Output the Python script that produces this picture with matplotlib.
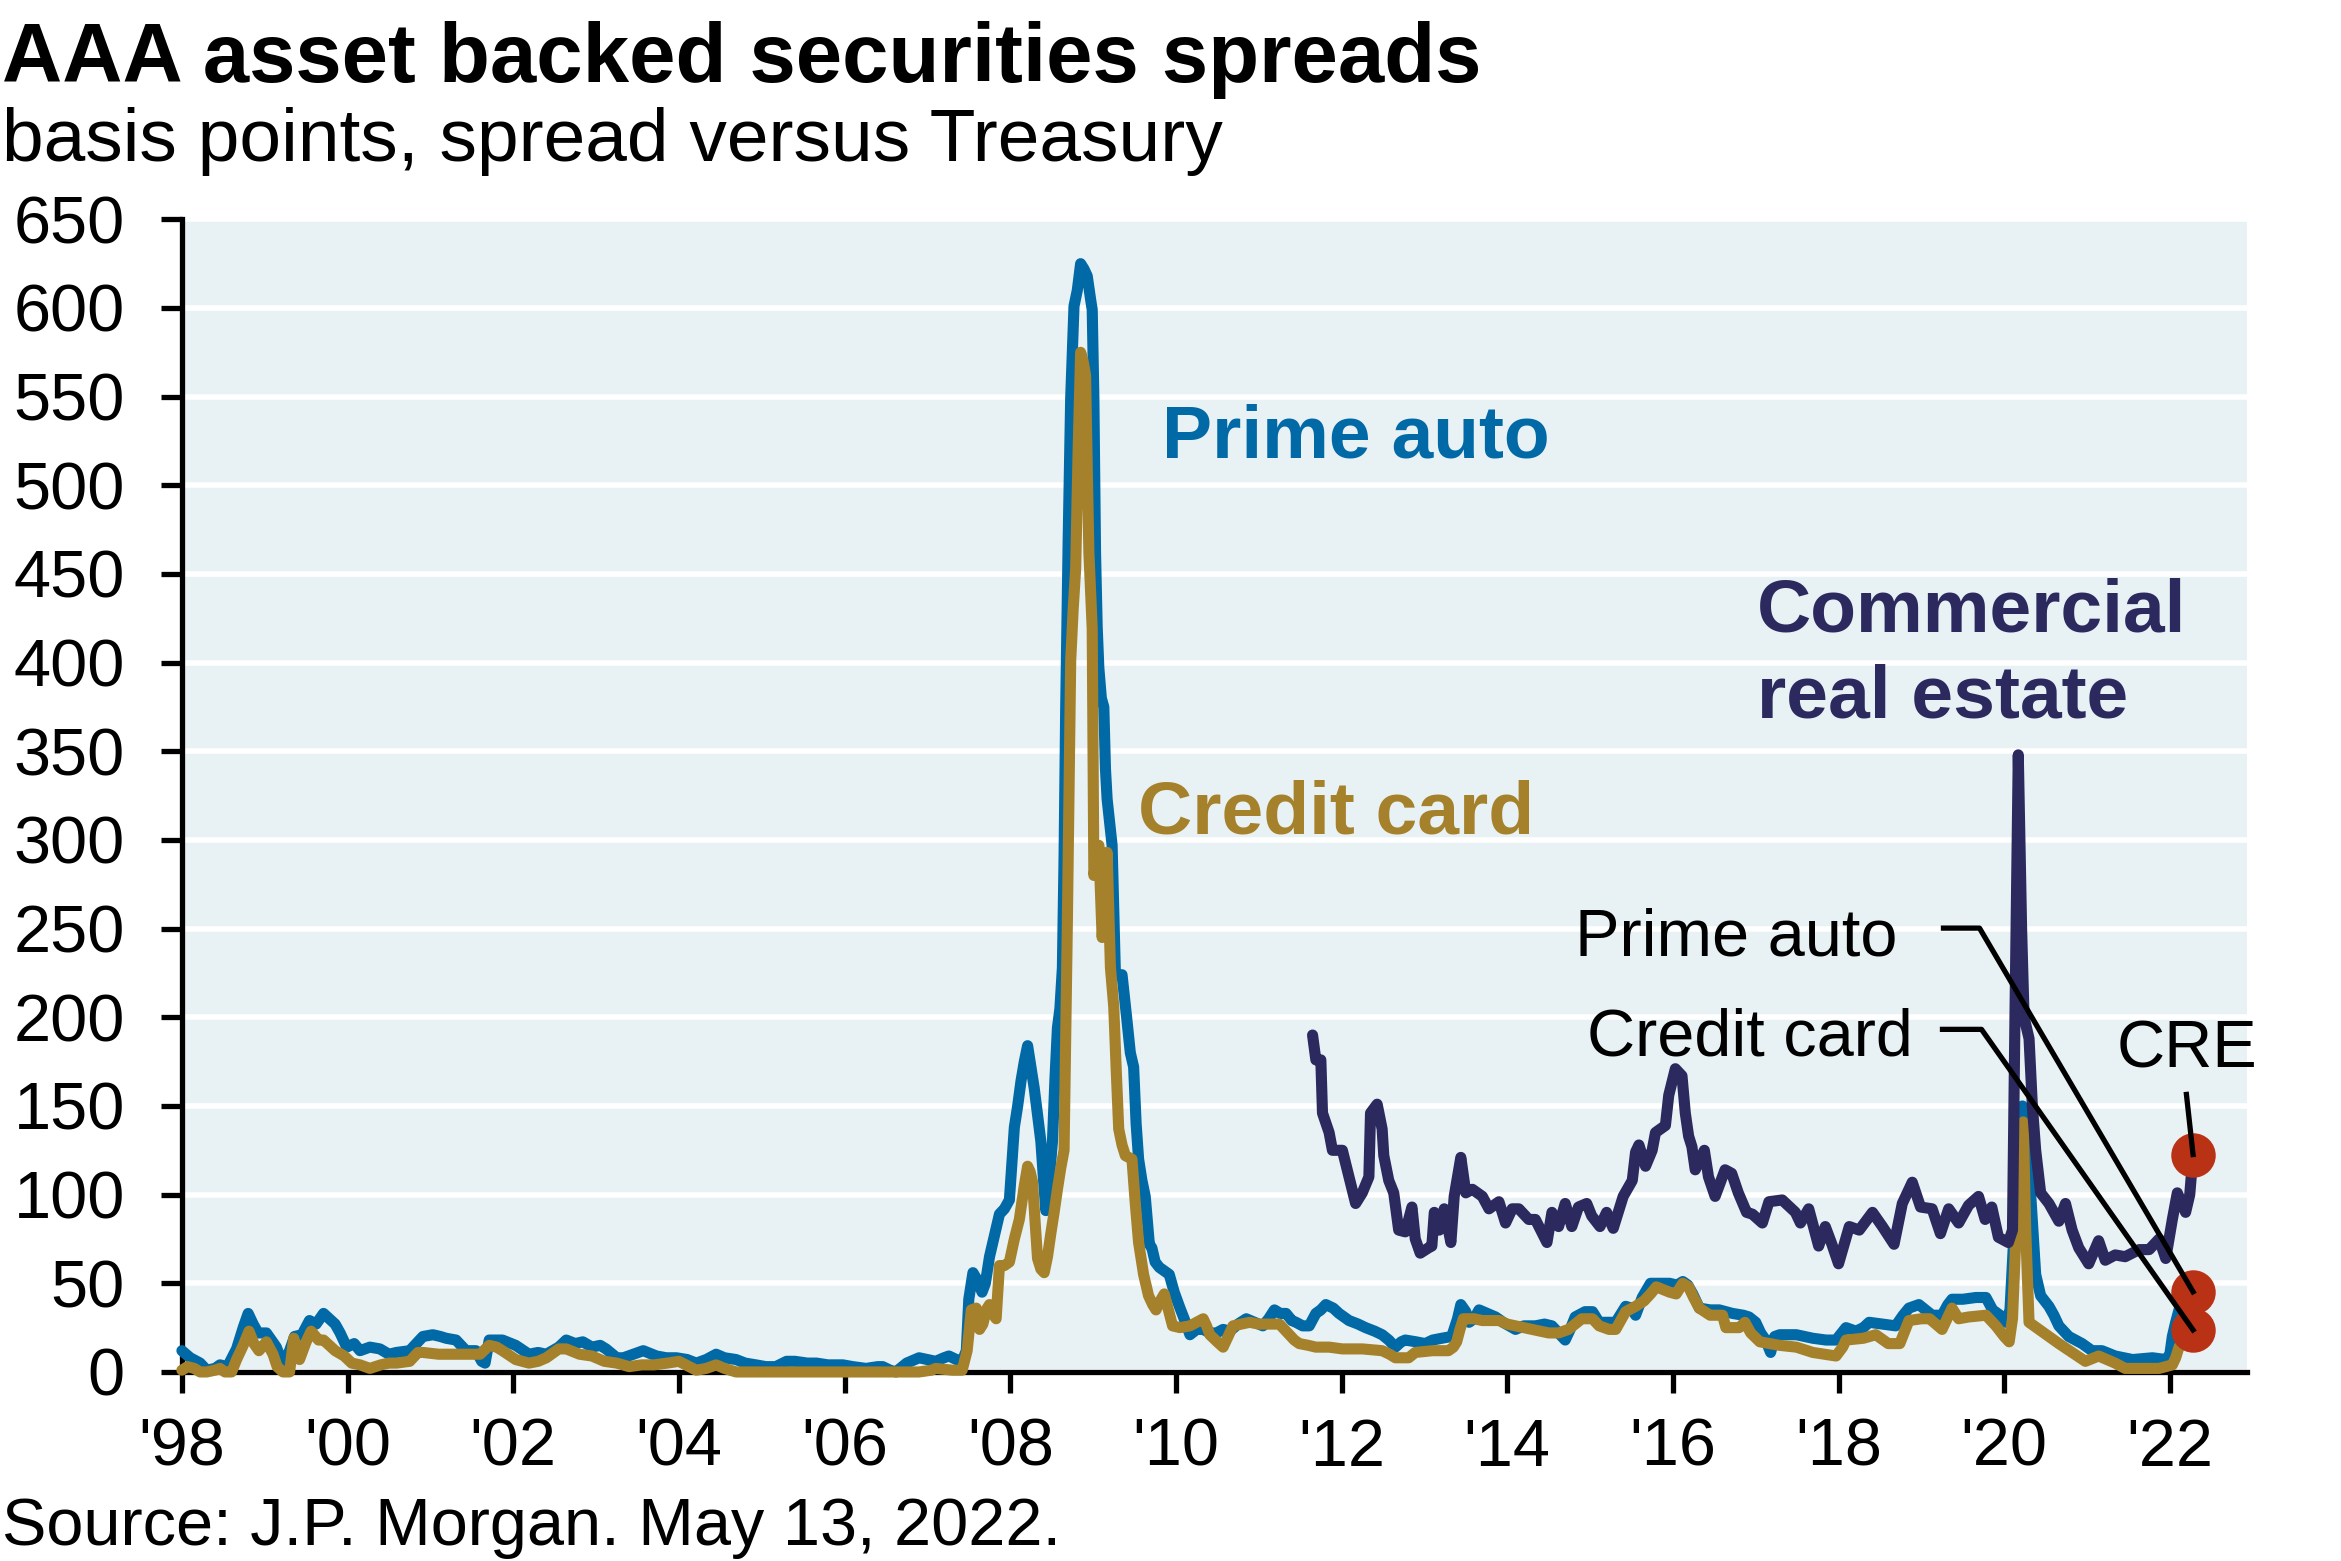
#!/usr/bin/env python3
#
# AAA asset backed securities spreads, basis points over Treasury
#
import matplotlib
matplotlib.use('Agg')
import matplotlib.pyplot as plt
import matplotlib.ticker

# Prime auto (decimal year, spread in bp)
auto_t = [
    1998.00, 1998.10, 1998.22, 1998.30, 1998.40, 1998.46, 1998.55, 1998.66,
    1998.74, 1998.80, 1998.86, 1998.92, 1999.02, 1999.14, 1999.22, 1999.30,
    1999.36, 1999.45, 1999.54, 1999.62, 1999.71, 1999.78, 1999.85, 1999.91,
    1999.99, 2000.08, 2000.15, 2000.27, 2000.39, 2000.50, 2000.59, 2000.75,
    2000.85, 2000.91, 2001.03, 2001.12, 2001.19, 2001.31, 2001.43, 2001.55,
    2001.62, 2001.66, 2001.71, 2001.87, 2002.03, 2002.19, 2002.30, 2002.40,
    2002.55, 2002.64, 2002.75, 2002.84, 2002.95, 2003.05, 2003.12, 2003.25,
    2003.33, 2003.45, 2003.57, 2003.73, 2003.85, 2003.97, 2004.10, 2004.21,
    2004.33, 2004.45, 2004.55, 2004.69, 2004.80, 2004.93, 2005.05, 2005.17,
    2005.30, 2005.40, 2005.55, 2005.66, 2005.80, 2005.98, 2006.10, 2006.26,
    2006.40, 2006.46, 2006.55, 2006.62, 2006.75, 2006.90, 2007.00, 2007.10,
    2007.20, 2007.26, 2007.35, 2007.42, 2007.47, 2007.50, 2007.55, 2007.60,
    2007.66, 2007.70, 2007.75, 2007.80, 2007.87, 2007.93, 2007.99, 2008.05,
    2008.09, 2008.13, 2008.17, 2008.21, 2008.25, 2008.29, 2008.33, 2008.37,
    2008.40, 2008.43, 2008.47, 2008.51, 2008.54, 2008.57, 2008.60, 2008.63,
    2008.65, 2008.67, 2008.70, 2008.73, 2008.77, 2008.81, 2008.85, 2008.89,
    2008.93, 2008.97, 2008.99, 2009.01, 2009.03, 2009.05, 2009.07, 2009.10,
    2009.13, 2009.15, 2009.17, 2009.20, 2009.23, 2009.25, 2009.27, 2009.31,
    2009.35, 2009.41, 2009.45, 2009.49, 2009.52, 2009.55, 2009.59, 2009.63,
    2009.68, 2009.71, 2009.75, 2009.80, 2009.86, 2009.92, 2009.98, 2010.05,
    2010.10, 2010.17, 2010.25, 2010.33, 2010.41, 2010.49, 2010.57, 2010.65,
    2010.75, 2010.85, 2010.95, 2011.05, 2011.12, 2011.19, 2011.26, 2011.33,
    2011.40, 2011.45, 2011.53, 2011.61, 2011.69, 2011.75, 2011.81, 2011.90,
    2011.97, 2012.09, 2012.20, 2012.29, 2012.40, 2012.49, 2012.57, 2012.65,
    2012.72, 2012.77, 2012.90, 2013.01, 2013.10, 2013.21, 2013.33, 2013.40,
    2013.44, 2013.50, 2013.54, 2013.60, 2013.66, 2013.76, 2013.86, 2013.95,
    2014.10, 2014.20, 2014.34, 2014.45, 2014.54, 2014.62, 2014.70, 2014.76,
    2014.82, 2014.94, 2015.03, 2015.11, 2015.20, 2015.31, 2015.43, 2015.50,
    2015.55, 2015.63, 2015.73, 2015.85, 2015.96, 2016.05, 2016.12, 2016.18,
    2016.24, 2016.32, 2016.45, 2016.56, 2016.72, 2016.85, 2016.92, 2017.00,
    2017.06, 2017.12, 2017.18, 2017.23, 2017.29, 2017.49, 2017.69, 2017.85,
    2017.97, 2018.09, 2018.21, 2018.30, 2018.37, 2018.53, 2018.69, 2018.78,
    2018.85, 2018.97, 2019.05, 2019.13, 2019.25, 2019.32, 2019.37, 2019.50,
    2019.66, 2019.78, 2019.86, 2019.95, 2020.02, 2020.07, 2020.12, 2020.17,
    2020.22, 2020.26, 2020.30, 2020.34, 2020.38, 2020.44, 2020.54, 2020.60,
    2020.66, 2020.78, 2020.94, 2021.06, 2021.18, 2021.34, 2021.55, 2021.79,
    2021.95, 2022.00, 2022.03, 2022.07, 2022.11, 2022.18, 2022.28,
]
auto_v = [
    12, 8, 5, 1, 2, 4, 3, 13,
    25, 33, 27, 22, 22, 14, 4, 12,
    20, 21, 29, 27, 33, 30, 27, 22,
    14, 16, 12, 14, 13, 10, 11, 12,
    17, 20, 21, 20, 19, 18, 12, 12,
    6, 5, 18, 18, 15, 10, 11, 10,
    14, 18, 16, 17, 14, 15, 13, 8,
    8, 10, 12, 9, 8, 8, 7, 5,
    7, 10, 8, 7, 5, 4, 3, 3,
    6, 6, 5, 5, 4, 4, 3, 2,
    3, 3, 1, 0, 5, 8, 7, 6,
    8, 9, 7, 6, 12, 41, 56, 52,
    45, 50, 65, 75, 89, 92, 97, 138,
    150, 164, 175, 184, 172, 160, 145, 130,
    110, 91, 108, 130, 165, 194, 205, 228,
    290, 375, 470, 549, 601, 610, 625, 622,
    618, 605, 599, 549, 462, 420, 397, 380,
    375, 340, 323, 310, 297, 260, 224, 224,
    224, 198, 180, 172, 140, 120, 108, 99,
    72, 70, 62, 59, 57, 55, 45, 36,
    30, 21, 24, 24, 22, 22, 24, 23,
    27, 30, 28, 26, 30, 35, 33, 33,
    29, 28, 26, 26, 33, 35, 38, 36,
    33, 29, 27, 25, 23, 21, 18, 14,
    17, 18, 17, 16, 18, 19, 20, 30,
    38, 34, 28, 30, 35, 33, 31, 28,
    24, 26, 26, 27, 26, 22, 18, 24,
    31, 34, 34, 28, 28, 28, 37, 36,
    32, 42, 50, 50, 50, 49, 51, 49,
    44, 36, 35, 35, 33, 32, 31, 28,
    22, 18, 11, 20, 21, 21, 19, 18,
    18, 25, 23, 25, 28, 27, 26, 32,
    36, 38, 35, 32, 32, 38, 41, 41,
    42, 42, 35, 32, 28, 35, 80, 130,
    150, 135, 115, 85, 55, 43, 37, 32,
    26, 20, 16, 12, 12, 9, 7, 8,
    7, 10, 20, 28, 35, 40, 45.2,
]

# Credit card
card_t = [
    1998.00, 1998.07, 1998.15, 1998.22, 1998.30, 1998.40, 1998.46, 1998.52,
    1998.60, 1998.66, 1998.74, 1998.81, 1998.87, 1998.93, 1999.02, 1999.10,
    1999.15, 1999.22, 1999.30, 1999.35, 1999.42, 1999.50, 1999.56, 1999.65,
    1999.71, 1999.85, 1999.96, 2000.05, 2000.15, 2000.27, 2000.40, 2000.50,
    2000.59, 2000.75, 2000.85, 2000.91, 2001.10, 2001.31, 2001.43, 2001.60,
    2001.71, 2001.80, 2001.87, 2002.03, 2002.19, 2002.30, 2002.40, 2002.55,
    2002.64, 2002.80, 2002.95, 2003.10, 2003.25, 2003.40, 2003.55, 2003.70,
    2003.86, 2004.00, 2004.21, 2004.33, 2004.45, 2004.55, 2004.69, 2005.00,
    2005.50, 2006.00, 2006.50, 2006.90, 2007.05, 2007.10, 2007.30, 2007.42,
    2007.48, 2007.53, 2007.59, 2007.63, 2007.67, 2007.71, 2007.75, 2007.80,
    2007.83, 2007.87, 2007.93, 2007.99, 2008.05, 2008.11, 2008.17, 2008.21,
    2008.24, 2008.27, 2008.30, 2008.33, 2008.37, 2008.41, 2008.45, 2008.49,
    2008.53, 2008.57, 2008.61, 2008.65, 2008.67, 2008.69, 2008.71, 2008.73,
    2008.76, 2008.79, 2008.82, 2008.85, 2008.88, 2008.91, 2008.93, 2008.95,
    2008.97, 2008.99, 2009.01, 2009.04, 2009.07, 2009.09, 2009.11, 2009.14,
    2009.17, 2009.19, 2009.21, 2009.25, 2009.28, 2009.31, 2009.35, 2009.39,
    2009.43, 2009.47, 2009.51, 2009.55, 2009.61, 2009.67, 2009.72, 2009.76,
    2009.81, 2009.86, 2009.91, 2009.96, 2010.05, 2010.17, 2010.25, 2010.33,
    2010.37, 2010.41, 2010.50, 2010.57, 2010.63, 2010.69, 2010.79, 2010.89,
    2011.00, 2011.09, 2011.25, 2011.31, 2011.37, 2011.43, 2011.49, 2011.60,
    2011.69, 2011.85, 2012.01, 2012.25, 2012.49, 2012.58, 2012.65, 2012.81,
    2012.89, 2013.10, 2013.29, 2013.35, 2013.39, 2013.43, 2013.47, 2013.60,
    2013.70, 2013.90, 2014.00, 2014.10, 2014.30, 2014.50, 2014.62, 2014.74,
    2014.82, 2014.90, 2015.03, 2015.11, 2015.23, 2015.31, 2015.43, 2015.55,
    2015.65, 2015.73, 2015.80, 2015.96, 2016.04, 2016.12, 2016.19, 2016.25,
    2016.32, 2016.45, 2016.60, 2016.64, 2016.80, 2016.87, 2016.94, 2017.05,
    2017.29, 2017.49, 2017.69, 2017.97, 2018.05, 2018.09, 2018.30, 2018.45,
    2018.60, 2018.74, 2018.85, 2019.00, 2019.10, 2019.25, 2019.37, 2019.45,
    2019.57, 2019.78, 2019.90, 2020.00, 2020.06, 2020.10, 2020.14, 2020.19,
    2020.23, 2020.26, 2020.30, 2020.42, 2020.54, 2020.66, 2020.82, 2020.98,
    2021.14, 2021.34, 2021.46, 2021.70, 2021.87, 2022.03, 2022.07, 2022.11,
    2022.20, 2022.28,
]
card_v = [
    1, 3, 2, 0, 0, 1, 2, 0,
    0, 7, 15, 23, 16, 12, 17, 10,
    3, 0, 0, 19, 7, 17, 23, 18,
    18, 12, 9, 5, 4, 2, 4, 5,
    5, 6, 11, 11, 10, 10, 10, 10,
    15, 14, 12, 7, 5, 6, 8, 13,
    13, 10, 9, 6, 5, 3, 4, 4,
    5, 6, 1, 2, 4, 2, 0, 0,
    0, 0, 0, 0, 1, 2, 1, 1,
    12, 35, 36, 24, 27, 35, 38, 32,
    30, 60, 60, 62, 75, 86, 105, 116,
    113, 107, 85, 64, 58, 56, 65, 78,
    90, 103, 115, 125, 190, 254, 330, 401,
    430, 453, 520, 575, 570, 562, 510, 462,
    440, 419, 280, 290, 297, 270, 245, 270,
    293, 260, 228, 206, 170, 137, 128, 122,
    121, 120, 95, 73, 55, 43, 38, 35,
    40, 44, 35, 26, 25, 26, 28, 30,
    26, 21, 17, 14, 20, 26, 27, 28,
    27, 27, 27, 24, 21, 18, 16, 15,
    14, 14, 13, 13, 12, 10, 8, 8,
    11, 12, 12, 14, 17, 24, 30, 30,
    29, 29, 27, 26, 24, 22, 22, 24,
    27, 30, 30, 26, 24, 24, 34, 37,
    40, 44, 48, 45, 44, 50, 48, 42,
    36, 32, 32, 25, 25, 28, 22, 17,
    15, 14, 11, 9, 14, 18, 19, 21,
    16, 16, 29, 30, 30, 24, 36, 30,
    31, 32, 26, 20, 17, 30, 75, 120,
    141, 80, 28, 24, 20, 16, 11, 6,
    9, 5, 2, 2, 2, 4, 8, 14,
    20, 23.7,
]

# Commercial real estate
cre_t = [
    2011.65, 2011.69, 2011.75, 2011.77, 2011.85, 2011.89, 2012.01, 2012.09,
    2012.17, 2012.25, 2012.33, 2012.35, 2012.43, 2012.49, 2012.51, 2012.57,
    2012.63, 2012.69, 2012.77, 2012.85, 2012.89, 2012.95, 2013.05, 2013.09,
    2013.12, 2013.18, 2013.24, 2013.32, 2013.36, 2013.44, 2013.50, 2013.58,
    2013.70, 2013.78, 2013.90, 2013.98, 2014.06, 2014.14, 2014.26, 2014.34,
    2014.48, 2014.54, 2014.62, 2014.70, 2014.78, 2014.86, 2014.96, 2015.02,
    2015.12, 2015.20, 2015.28, 2015.40, 2015.51, 2015.55, 2015.59, 2015.67,
    2015.75, 2015.79, 2015.91, 2015.95, 2016.03, 2016.11, 2016.15, 2016.19,
    2016.23, 2016.27, 2016.38, 2016.43, 2016.51, 2016.63, 2016.71, 2016.79,
    2016.89, 2016.96, 2017.08, 2017.16, 2017.32, 2017.48, 2017.54, 2017.64,
    2017.76, 2017.84, 2017.92, 2018.00, 2018.13, 2018.25, 2018.41, 2018.53,
    2018.67, 2018.77, 2018.89, 2018.99, 2019.13, 2019.23, 2019.33, 2019.45,
    2019.57, 2019.69, 2019.77, 2019.85, 2019.93, 2020.05, 2020.10, 2020.13,
    2020.17, 2020.21, 2020.24, 2020.30, 2020.34, 2020.38, 2020.44, 2020.54,
    2020.66, 2020.74, 2020.82, 2020.90, 2021.02, 2021.14, 2021.22, 2021.34,
    2021.46, 2021.63, 2021.75, 2021.87, 2021.95, 2022.03, 2022.09, 2022.19,
    2022.24, 2022.28,
]
cre_v = [
    190, 176, 176, 146, 135, 125, 125, 110,
    95, 101, 110, 146, 151, 137, 122, 108,
    101, 80, 79, 93, 75, 67, 70, 71,
    90, 80, 92, 73, 99, 121, 101, 103,
    99, 92, 96, 84, 92, 92, 86, 86,
    73, 90, 82, 95, 82, 93, 95, 88,
    82, 90, 81, 99, 108, 124, 128, 116,
    125, 135, 139, 156, 171, 167, 146, 133,
    127, 114, 125, 110, 99, 114, 112, 101,
    90, 89, 84, 96, 97, 90, 84, 92,
    71, 82, 72, 61, 82, 80, 90, 82,
    72, 95, 107, 93, 92, 78, 92, 84,
    94, 99, 86, 93, 76, 73, 80, 200,
    348, 250, 200, 188, 150, 125, 101, 95,
    85, 95, 80, 70, 61, 74, 63, 66,
    65, 69, 69, 75, 64, 86, 101, 90,
    100, 122.6,
]

years = list(range(1998, 2023, 2))
year_labels = ["'%02d" % (y % 100) for y in years]

c_auto = '#0069a6'
c_card = '#a4812a'
c_cre = '#2b295e'
c_dot = '#ba3216'
c_bg = '#e8f1f4'

plt.rcParams['font.family'] = ['Liberation Sans', 'DejaVu Sans']

#
# Create figure
#
fig = plt.figure(figsize=(11.705, 7.805), dpi=200)
ax = fig.add_axes([0.0777, 0.1211, 0.9598 - 0.0777, 0.8595 - 0.1211])
ax.set_facecolor(c_bg)
ax.set_xlim(1998, 2022.93)
ax.set_ylim(0, 650)
for s in ('top', 'right'):
    ax.spines[s].set_visible(False)
for s in ('left', 'bottom'):
    ax.spines[s].set_linewidth(1.9)
    ax.spines[s].set_color('k')
ax.set_xticks(years)
ax.set_xticklabels(year_labels)
ax.yaxis.set_major_locator(matplotlib.ticker.MultipleLocator(50))
ax.tick_params(axis='x', length=7.5, width=1.9, pad=9, labelsize=24)
ax.tick_params(axis='y', length=7.5, width=1.9, pad=13, labelsize=24)
ax.grid(axis='y', color='white', lw=2.0, zorder=1)
ax.set_axisbelow(True)

sline = dict(lw=4.0, solid_joinstyle='round', solid_capstyle='round',
             clip_on=False)
ax.plot(auto_t, auto_v, color=c_auto, zorder=3, **sline)
ax.plot(card_t, card_v, color=c_card, zorder=4, **sline)
ax.plot(cre_t, cre_v, color=c_cre, zorder=5, **sline)

# End points
ends = [(auto_t[-1], auto_v[-1]), (card_t[-1], card_v[-1]),
        (cre_t[-1], cre_v[-1])]
for x, y in ends:
    ax.plot(x, y, 'o', color=c_dot, markersize=15, zorder=6, clip_on=False)

# Leader lines
sleader = dict(color='k', lw=1.9, zorder=7, clip_on=False)
ax.plot([2019.267, 2019.702, auto_t[-1]], [250.3, 250.3, auto_v[-1]],
        **sleader)
ax.plot([2019.255, 2019.726, card_t[-1]], [193.2, 193.2, card_v[-1]],
        **sleader)
ax.plot([2022.20, cre_t[-1]], [156.5, cre_v[-1]], **sleader)

#
# Text
#
W, H = 2341, 1561
def ftext(px, py, s, **kw):
    fig.text(px / W, 1 - py / H, s, **kw)

ftext(2, 82, 'AAA asset backed securities spreads', fontsize=30,
      fontweight='bold', va='baseline')
ftext(2, 161, 'basis points, spread versus Treasury', fontsize=27,
      va='baseline')
ftext(2, 1545, 'Source: J.P. Morgan. May 13, 2022.', fontsize=24,
      va='baseline')

bold = dict(fontsize=27, fontweight='bold', va='baseline')
ftext(1162, 458, 'Prime auto', color=c_auto, **bold)
ftext(1138, 833, 'Credit card', color=c_card, **bold)
ftext(1757, 632, 'Commercial', color=c_cre, **bold)
ftext(1757, 717, 'real estate', color=c_cre, **bold)

plain = dict(fontsize=24, va='baseline')
ftext(1897, 955, 'Prime auto', ha='right', **plain)
ftext(1913, 1056, 'Credit card', ha='right', **plain)
ftext(2117, 1068, 'CRE', **plain)

fig.savefig('out.png', dpi=200)
